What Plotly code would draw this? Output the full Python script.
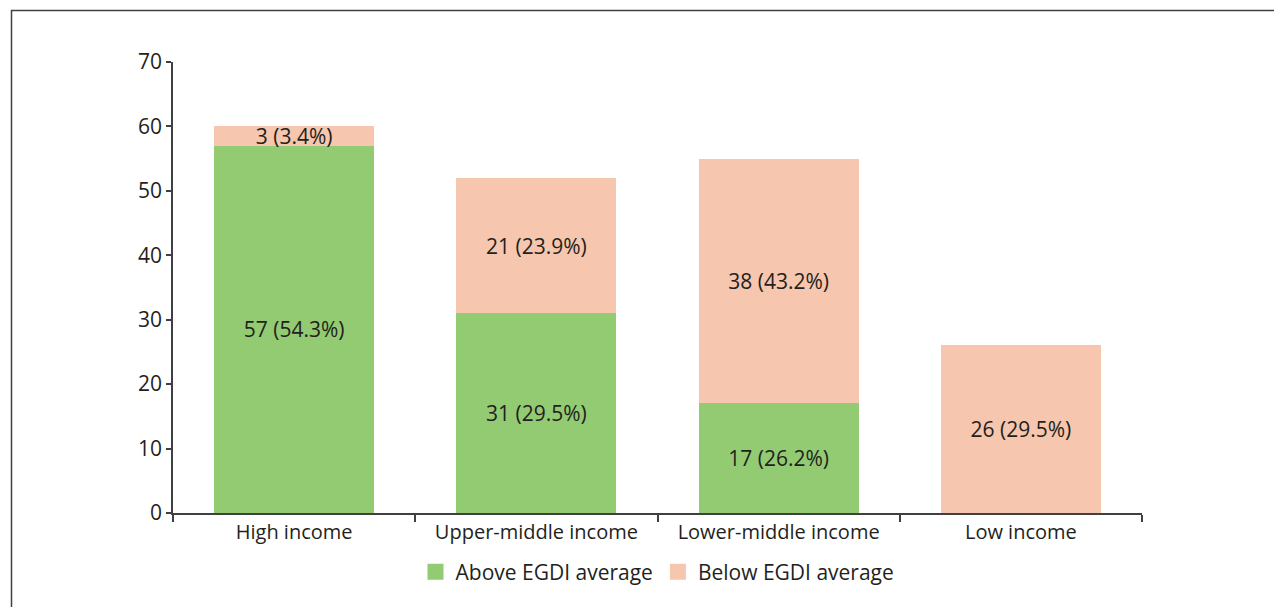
import plotly.graph_objects as go

categories = ["High income", "Upper-middle income", "Lower-middle income", "Low income"]
above_values = [57, 31, 17, 0]
below_values = [3, 21, 38, 26]
above_labels = ["57 (54.3%)", "31 (29.5%)", "17 (26.2%)", ""]
below_labels = ["3 (3.4%)", "21 (23.9%)", "38 (43.2%)", "26 (29.5%)"]
y_ticks = [0, 10, 20, 30, 40, 50, 60, 70]

FONT = "Open Sans"
FS = 20
FS_BAR = 21
TXT = "#231f20"
AX = "#404040"
GREEN = "#93cb73"
SALMON = "#f7c6ae"

fig = go.Figure()
fig.add_trace(go.Bar(
    x=categories, y=above_values, name="Above EGDI average", showlegend=False,
    marker=dict(color=GREEN, line=dict(width=0)),
    text=above_labels, textposition="inside", insidetextanchor="middle",
    textfont=dict(family=FONT, size=FS_BAR, color=TXT), hoverinfo="skip",
))
fig.add_trace(go.Bar(
    x=categories, y=below_values, name="Below EGDI average", showlegend=False,
    marker=dict(color=SALMON, line=dict(width=0)),
    text=below_labels, textposition="inside", insidetextanchor="middle",
    textfont=dict(family=FONT, size=FS_BAR, color=TXT), hoverinfo="skip",
))
# legend entries with larger square swatches
for nm, col in [("Above EGDI average", GREEN), ("Below EGDI average", SALMON)]:
    fig.add_trace(go.Scatter(x=[None], y=[None], mode="markers", name=nm,
                             marker=dict(symbol="square", size=20, color=col),
                             hoverinfo="skip"))

# page has an 8px body margin: figure coords = page coords - 8
W, H = 1274, 599
L, R, T, B = 165, 140, 54, 94
pw, ph = W - L - R, H - T - B

def px_x(x):
    return (x - 8 - L) / pw

def px_y(y):
    return (H - B - (y - 8)) / ph

fig.update_layout(
    width=W, height=H,
    barmode="stack", bargap=0.34,
    margin=dict(l=L, r=R, t=T, b=B),
    plot_bgcolor="white", paper_bgcolor="white",
    font=dict(family=FONT, size=FS, color=TXT),
    uniformtext=dict(minsize=FS_BAR, mode="show"),
    showlegend=True,
    legend=dict(orientation="h", x=0.5, xanchor="center", y=px_y(572), yanchor="middle",
                font=dict(family=FONT, size=FS_BAR, color=TXT), traceorder="normal",
                itemsizing="trace", itemwidth=30, tracegroupgap=0),
    xaxis=dict(showgrid=False, showline=True, linecolor=AX, linewidth=2,
               ticks="outside", tickson="boundaries", ticklen=7, tickcolor=AX, tickwidth=1.5,
               tickfont=dict(family=FONT, size=FS, color=TXT)),
    yaxis=dict(range=[0, 70], tickvals=y_ticks, showgrid=False, zeroline=False,
               showline=True, linecolor=AX, linewidth=1.5,
               ticks="outside", ticklen=5, tickcolor=AX, tickwidth=1.5,
               tickfont=dict(family=FONT, size=21, color=TXT)),
    shapes=[dict(type="rect", xref="paper", yref="paper",
                 x0=px_x(11.5), x1=px_x(1300), y0=px_y(640), y1=px_y(10.5),
                 line=dict(color=AX, width=1.5), fillcolor="rgba(0,0,0,0)", layer="above")],
)

fig.write_html("out.html")
